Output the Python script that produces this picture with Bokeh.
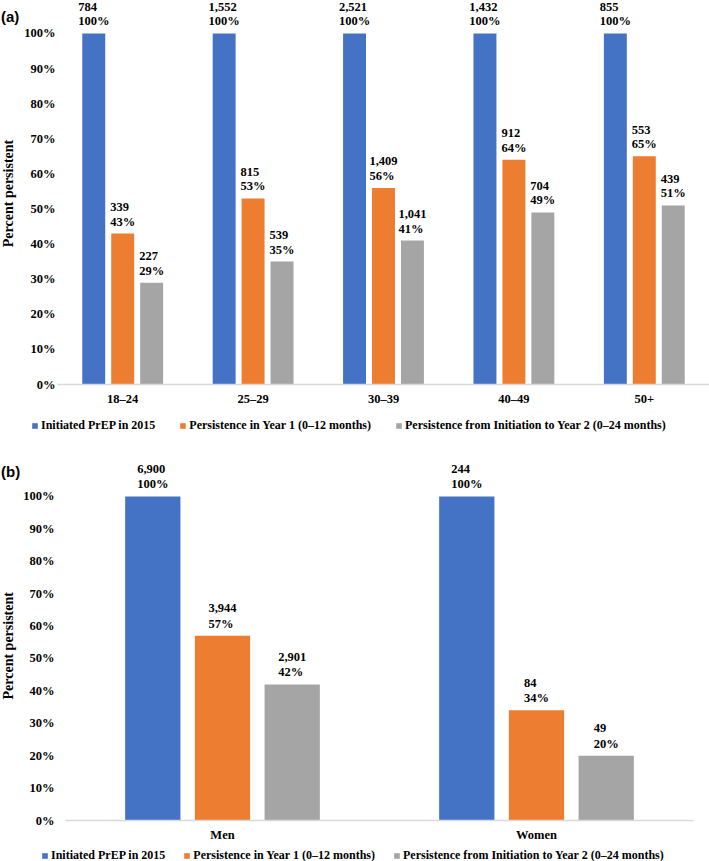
import math
from bokeh.plotting import figure
from bokeh.models import (ColumnDataSource, FactorRange, Legend, LegendItem,
                          LabelSet, FixedTicker, PrintfTickFormatter)
from bokeh.layouts import column, row
from bokeh.transform import dodge
from bokeh.core.properties import value
from bokeh.embed import file_html
from bokeh.resources import INLINE

# ---------------- data ----------------
series_names = ["Initiated PrEP in 2015",
                "Persistence in Year 1 (0\u201312 months)",
                "Persistence from Initiation to Year 2 (0\u201324 months)"]
series_colors = ["#4472C4", "#ED7D31", "#A5A5A5"]

age_groups = ["18\u201324", "25\u201329", "30\u201339", "40\u201349", "50+"]
age_initiated_n = [784, 1552, 2521, 1432, 855]
age_initiated_pct = [100, 100, 100, 100, 100]
age_year1_n = [339, 815, 1409, 912, 553]
age_year1_pct = [43, 53, 56, 64, 65]
age_year2_n = [227, 539, 1041, 704, 439]
age_year2_pct = [29, 35, 41, 49, 51]

sex_groups = ["Men", "Women"]
sex_initiated_n = [6900, 244]
sex_initiated_pct = [100, 100]
sex_year1_n = [3944, 84]
sex_year1_pct = [57, 34]
sex_year2_n = [2901, 49]
sex_year2_pct = [42, 20]

y_ticks = [0, 10, 20, 30, 40, 50, 60, 70, 80, 90, 100]
y_title = "Percent persistent"

SERIF = "Liberation Serif"
OFFSETS = [-0.222, 0.0, 0.222]
BAR_W = 0.176
SIDE_W = 20
TOTAL_W = 709


def make_main(groups, ns, pcts, height, border_top, border_left, border_right,
              border_bottom, y_end, tick_standoff, cat_standoff, line_height, label_offset):
    p = figure(x_range=FactorRange(*groups, range_padding=0), y_range=(0, y_end),
               width=TOTAL_W - SIDE_W, height=height, output_backend="svg",
               toolbar_location=None, min_border_left=border_left,
               min_border_right=border_right, min_border_top=border_top,
               min_border_bottom=border_bottom)
    p.outline_line_color = None
    p.xgrid.grid_line_color = None
    p.ygrid.grid_line_color = None

    for k in range(3):
        labels = [f"{n:,}\n{v}%" for n, v in zip(ns[k], pcts[k])]
        src = ColumnDataSource(dict(cat=groups, pct=pcts[k], lab=labels))
        xs = dodge("cat", OFFSETS[k], range=p.x_range)
        p.vbar(x=xs, top="pct", width=BAR_W, source=src,
               fill_color=series_colors[k], line_color=None)
        p.add_layout(LabelSet(x=xs, y="pct", text="lab", source=src, text_align="center",
                              text_baseline="bottom", y_offset=label_offset,
                              text_font=SERIF, text_font_style="bold",
                              text_font_size="12.5px", text_line_height=line_height,
                              text_color="#000000"))

    p.yaxis.ticker = FixedTicker(ticks=y_ticks)
    p.yaxis.formatter = PrintfTickFormatter(format="%d%%")
    p.yaxis.axis_line_color = None
    p.yaxis.major_tick_line_color = None
    p.yaxis.minor_tick_line_color = None
    p.yaxis.major_tick_out = 0
    p.yaxis.major_label_standoff = tick_standoff
    p.yaxis.axis_label_standoff = 0
    p.yaxis.major_label_text_font = SERIF
    p.yaxis.major_label_text_font_style = "bold"
    p.yaxis.major_label_text_font_size = "12.5px"
    p.yaxis.major_label_text_color = "#000000"

    p.xaxis.axis_line_color = "#D9D9D9"
    p.xaxis.axis_line_width = 1.5
    p.xaxis.major_tick_line_color = None
    p.xaxis.minor_tick_line_color = None
    p.xaxis.major_tick_out = 0
    p.xaxis.major_label_standoff = cat_standoff
    p.xaxis.axis_label_standoff = 0
    p.xaxis.major_label_text_font = SERIF
    p.xaxis.major_label_text_font_style = "bold"
    p.xaxis.major_label_text_font_size = "12.5px"
    p.xaxis.major_label_text_color = "#000000"
    return p


def make_side(height, tag, tag_y, title_y):
    s = figure(width=SIDE_W, height=height, x_range=(0, SIDE_W), y_range=(height, 0),
               x_axis_type=None, y_axis_type=None, output_backend="svg",
               toolbar_location=None, min_border=0)
    s.outline_line_color = None
    s.xgrid.visible = False
    s.ygrid.visible = False
    s.text(x=[0.5], y=[tag_y], text=[tag], text_font=value("Liberation Sans"),
           text_font_style="bold", text_font_size="15px", text_baseline="middle",
           text_align="left", text_color="#000000")
    s.text(x=[8], y=[title_y], text=[y_title], angle=math.pi / 2,
           text_font=value(SERIF), text_font_style="bold", text_font_size="14px",
           text_baseline="middle", text_align="center", text_color="#000000")
    return s


def make_legend(height, loc, spacing, pcts):
    lf = figure(width=TOTAL_W, height=height, x_range=(0, 1), y_range=(0, 1),
                x_axis_type=None, y_axis_type=None, output_backend="svg",
                toolbar_location=None, min_border=0)
    lf.outline_line_color = None
    lf.xgrid.visible = False
    lf.ygrid.visible = False
    items = []
    for name, c, vals in zip(series_names, series_colors, pcts):
        src = ColumnDataSource(dict(pos=list(range(len(vals))), pct=vals))
        r = lf.vbar(x="pos", top="pct", width=0.1, source=src, fill_color=c,
                    line_color=None, visible=False)
        items.append(LegendItem(label=name, renderers=[r]))
    lf.add_layout(Legend(items=items, orientation="horizontal", location=loc,
                         label_text_font=SERIF, label_text_font_style="bold",
                         label_text_font_size="12px", label_text_color="#000000",
                         glyph_width=7, glyph_height=7, label_standoff=3,
                         spacing=spacing, label_height=12, padding=0, margin=0,
                         inactive_fill_alpha=0, border_line_color=None,
                         background_fill_alpha=0))
    return lf


age_pcts = [age_initiated_pct, age_year1_pct, age_year2_pct]
sex_pcts = [sex_initiated_pct, sex_year1_pct, sex_year2_pct]

main_a = make_main(age_groups, [age_initiated_n, age_year1_n, age_year2_n], age_pcts,
                   height=414, border_top=2, border_left=37, border_right=0,
                   border_bottom=30, y_end=108.8, tick_standoff=2, cat_standoff=7,
                   line_height=1.03, label_offset=5)
side_a = make_side(414, "(a)", 15, 207)
legend_a = make_legend(34, (31, 15), 24, age_pcts)

main_b = make_main(sex_groups, [sex_initiated_n, sex_year1_n, sex_year2_n], sex_pcts,
                   height=396, border_top=0, border_left=44, border_right=16,
                   border_bottom=24, y_end=114.8, tick_standoff=11, cat_standoff=7,
                   line_height=1.1, label_offset=5)
side_b = make_side(396, "(b)", 25, 210)
legend_b = make_legend(17, (41, -2), 18, sex_pcts)

layout = column(row(side_a, main_a), legend_a, row(side_b, main_b), legend_b, spacing=0)
open("out.html", "w").write(file_html(layout, INLINE))
